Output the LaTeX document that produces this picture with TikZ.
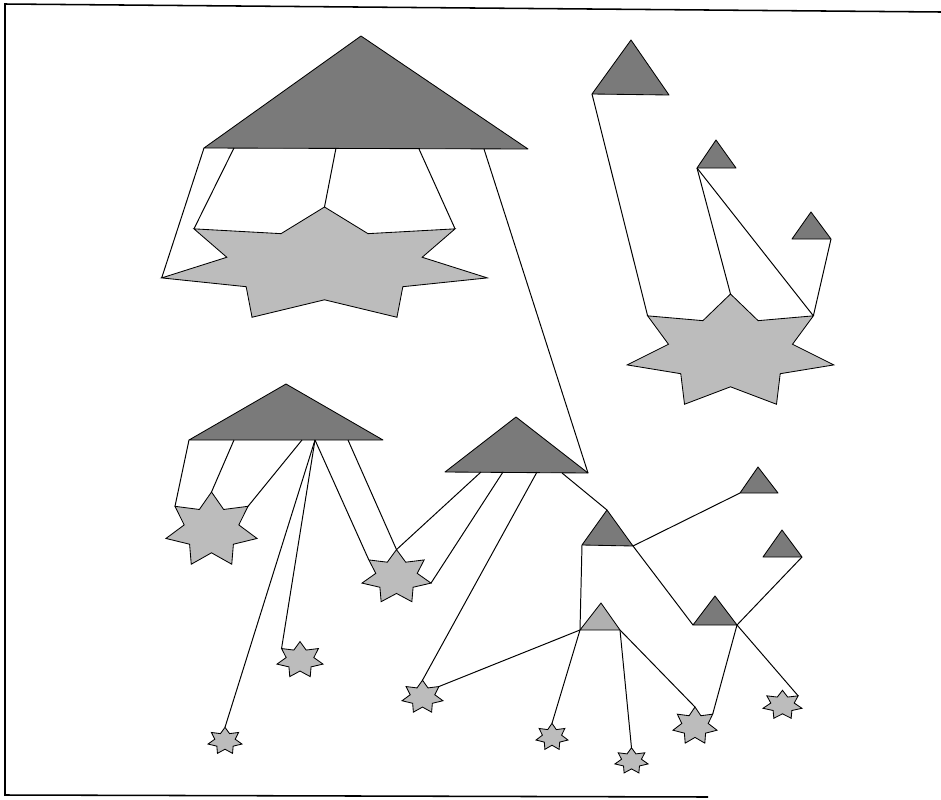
\documentclass[tikz,border=0pt]{standalone}
\usepackage{tikz}
\usetikzlibrary{calc}
\definecolor{trigray}{HTML}{7A7A7A}
\definecolor{stargray}{HTML}{BCBCBC}
\definecolor{palegray}{HTML}{B0B0B0}

\newcommand{\sevenstar}[5]{%
  \foreach \k in {0,...,6}{
    \coordinate (#1-\k) at ($(#2,#3)+({-90+\k*360/7}:{#4} and {#5})$);
    \coordinate (#1-i\k) at ($(#2,#3)+({-90+(\k+0.5)*360/7}:{0.6*#4} and {0.6*#5})$);
  }
  \filldraw[starfill] (#1-0)
    \foreach \k [evaluate=\k as \n using {int(\k+1)}] in {0,...,5}{ -- (#1-i\k) -- (#1-\n)}
    -- (#1-i6) -- cycle;
}

\begin{document}
\begin{tikzpicture}[
  x=0.25mm, y=-0.25mm,
  tri/.style={draw, fill=trigray, line width=0.6pt, line join=round},
  palettri/.style={draw, fill=palegray, line width=0.6pt, line join=round},
  starfill/.style={draw, fill=stargray, line width=0.6pt},
  link/.style={line width=0.7pt},
  frame/.style={line width=1.1pt},
]
\useasboundingbox (0,0) rectangle (941,800);
\draw[frame] (941,12) -- (5,4) -- (5,795) -- (708,797);

\filldraw[tri] (204,148) coordinate (t1-l) -- (361,36) coordinate (t1-t) -- (528,149) coordinate (t1-r) -- cycle;
\filldraw[tri] (592,94) coordinate (t2-l) -- (631,40) coordinate (t2-t) -- (669,95) coordinate (t2-r) -- cycle;
\filldraw[tri] (697,168) coordinate (t3-l) -- (716,140) coordinate (t3-t) -- (736,168) coordinate (t3-r) -- cycle;
\filldraw[tri] (792,239) coordinate (t4-l) -- (811,212) coordinate (t4-t) -- (831,239) coordinate (t4-r) -- cycle;
\filldraw[tri] (189,440) coordinate (t5-l) -- (286,384) coordinate (t5-t) -- (383,440) coordinate (t5-r) -- cycle;
\filldraw[tri] (445,472) coordinate (t6-l) -- (516,417) coordinate (t6-t) -- (588,473) coordinate (t6-r) -- cycle;
\filldraw[tri] (582,545) coordinate (t7-l) -- (607,510) coordinate (t7-t) -- (633,546) coordinate (t7-r) -- cycle;
\filldraw[tri] (740,493) coordinate (t8-l) -- (758,467) coordinate (t8-t) -- (778,493) coordinate (t8-r) -- cycle;
\filldraw[tri] (763,557) coordinate (t9-l) -- (782,530) coordinate (t9-t) -- (802,557) coordinate (t9-r) -- cycle;
\filldraw[tri] (693,625) coordinate (t10-l) -- (715,596) coordinate (t10-t) -- (737,625) coordinate (t10-r) -- cycle;
\filldraw[palettri] (580,630) coordinate (t11-l) -- (601,603) coordinate (t11-t) -- (620,630) coordinate (t11-r) -- cycle;

\coordinate (t1-a) at (234,148);
\coordinate (t1-b) at (336,148);
\coordinate (t1-c) at (419,149);
\coordinate (t1-d) at (484,149);
\coordinate (t5-a) at (234,440);
\coordinate (t5-b) at (302,440);
\coordinate (t5-c) at (315,440);
\coordinate (t5-d) at (348,440);
\coordinate (t6-a) at (481,472);
\coordinate (t6-b) at (503,472);
\coordinate (t6-c) at (537,472);
\coordinate (t6-d) at (562,473);

\sevenstar{s1}{324.5}{265}{167}{58}
\sevenstar{s2}{730.5}{352}{106}{58}
\sevenstar{s3}{211.5}{530}{46.7}{38}
\sevenstar{s4}{396.5}{577}{35.4}{27.4}
\sevenstar{s5}{300}{660}{23.6}{18.4}
\sevenstar{s6}{225}{741}{17.4}{13.7}
\sevenstar{s7}{422.5}{697}{21}{16.8}
\sevenstar{s8}{552}{737}{16.4}{13.7}
\sevenstar{s9}{631.5}{761}{17}{13.2}
\sevenstar{s10}{695}{726}{22.6}{19}
\sevenstar{s11}{782.5}{705}{20}{14.7}

\draw[link] (t1-l) -- (s1-5);
\draw[link] (t1-a) -- (s1-6);
\draw[link] (t1-b) -- (s1-0);
\draw[link] (t1-c) -- (s1-1);
\draw[link] (t1-d) -- (t6-r);
\draw[link] (t2-l) -- (s2-6);
\draw[link] (t3-l) -- (s2-0);
\draw[link] (t3-l) -- (s2-1);
\draw[link] (t4-r) -- (s2-1);
\draw[link] (t5-l) -- (s3-6);
\draw[link] (t5-a) -- (s3-0);
\draw[link] (t5-b) -- (s3-1);
\draw[link] (t5-c) -- (s6-0);
\draw[link] (t5-c) -- (s5-6);
\draw[link] (t5-c) -- (s4-6);
\draw[link] (t5-d) -- (s4-0);
\draw[link] (t6-a) -- (s4-0);
\draw[link] (t6-b) -- (s4-2);
\draw[link] (t6-c) -- (s7-0);
\draw[link] (t6-d) -- (t7-t);
\draw[link] (t7-r) -- (t8-l);
\draw[link] (t7-l) -- (t11-l);
\draw[link] (t7-r) -- (t10-l);
\draw[link] (t9-r) -- (t10-r);
\draw[link] (t11-l) -- (s7-1);
\draw[link] (t11-l) -- (s8-0);
\draw[link] (t11-r) -- (s9-0);
\draw[link] (t11-r) -- (s10-0);
\draw[link] (t10-r) -- (s10-1);
\draw[link] (t10-r) -- (s11-1);
\end{tikzpicture}
\end{document}
